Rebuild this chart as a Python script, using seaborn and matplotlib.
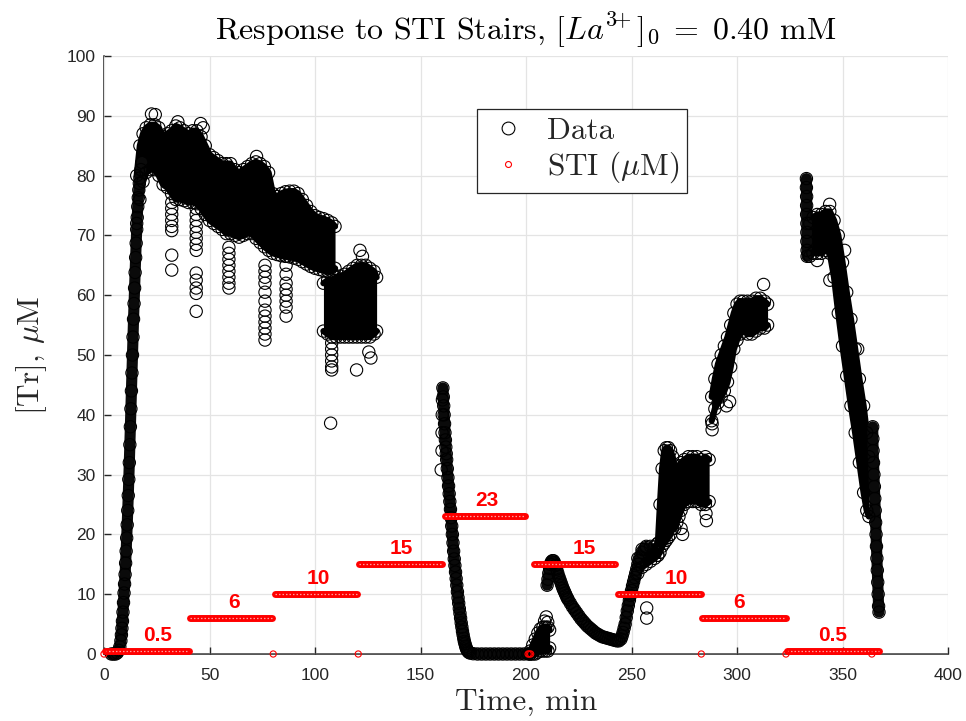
import numpy as np
import pandas as pd
import matplotlib
matplotlib.use("Agg")
import matplotlib.pyplot as plt
import seaborn as sns
from matplotlib.lines import Line2D
import warnings
warnings.filterwarnings("ignore")

# ---------------- data ----------------
# narrow "chains" of Data points (time in min, [Tr] in uM)
rise_t = [3.5, 4.5, 5.5, 6.3, 7.0, 7.5, 8.0, 8.25, 8.5, 8.75, 9.0, 9.25, 9.5, 9.75,
          10.0, 10.25, 10.5, 10.75, 11.0, 11.25, 11.5, 11.75, 12.0, 12.25, 12.5, 12.75,
          13.0, 13.25, 13.5, 13.75, 14.0, 14.25, 14.5, 14.75, 15.0, 15.25, 15.5, 15.75,
          16.0, 16.25, 16.5, 16.75, 17.0, 17.5, 18.0]
rise_y = [0, 0, 0, 0.2, 0.6, 1.2, 2.2, 3.2, 4.3, 5.5, 7, 8.6, 10.2, 11.7,
          13.3, 15.2, 17.2, 19.4, 21.6, 24.0, 26.5, 29.2, 32.0, 35, 38, 41,
          44, 47, 50, 53, 56, 58.6, 61.2, 63.8, 66.3, 68.7, 71, 73,
          74.8, 76.3, 77.6, 78.7, 79.6, 81, 82.2]

fall_t = [160.6, 160.8, 161.0, 161.2, 161.4, 161.6, 161.8, 162.0, 162.2, 162.4,
          162.7, 163.0, 163.3, 163.6, 163.9, 164.2, 164.5, 164.8, 165.1, 165.4,
          165.7, 166.0, 166.3, 166.6, 166.9, 167.2, 167.5, 167.8, 168.1, 168.4,
          168.7, 169.0, 169.3, 169.6, 169.9, 170.2, 170.5, 170.8, 171.1, 171.4,
          171.7, 172.0, 172.4, 172.8, 173.5, 175, 177, 179, 181, 183,
          185, 187, 189, 191, 193, 195, 197, 199, 201, 202]
fall_y = [44.5, 43, 41.5, 40, 38.5, 37, 35.8, 34.6, 33.5, 32.5,
          31, 29.5, 28.1, 26.8, 25.5, 24.2, 22.8, 21.4, 20, 18.6,
          17.2, 15.9, 14.8, 13.7, 12.6, 11.5, 10.4, 9.4, 8.5, 7.6,
          6.8, 6.0, 5.2, 4.5, 3.8, 3.2, 2.6, 2.1, 1.7, 1.3,
          1.0, 0.7, 0.5, 0.3, 0.15, 0.05, 0, 0, 0, 0,
          0, 0, 0, 0, 0, 0, 0, 0, 0, 0]

arc_t = [210.0, 210.4, 210.8, 211.2, 211.6, 212.0,
         212.5, 213.0, 213.5, 214.0, 214.5, 215.0, 215.5, 216.0, 216.5, 217.0,
         217.5, 218.0, 218.5, 219.0, 219.5, 220.0,
         221, 222, 223, 224, 225, 226, 227, 228, 229, 230, 231, 232, 233, 234,
         235, 236, 237, 238, 239, 240, 241, 242, 243, 244, 245,
         245.5, 246, 246.5, 247, 247.5, 248, 248.5, 249, 249.5, 250, 250.5, 251,
         251.5, 252, 252.5, 253, 253.5, 254, 255, 256, 257]
arc_y = [11.5, 12.5, 13.5, 14.3, 15.0, 15.4,
         15.6, 15.6, 15.3, 14.8, 14.2, 13.6, 13.0, 12.5, 12.0, 11.5,
         11.0, 10.6, 10.2, 9.8, 9.4, 9.1,
         8.5, 7.9, 7.4, 6.9, 6.4, 5.9, 5.5, 5.1, 4.7, 4.4, 4.1, 3.8, 3.5, 3.3,
         3.1, 2.9, 2.8, 2.7, 2.6, 2.5, 2.4, 2.3, 2.2, 2.2, 2.5,
         3.0, 3.6, 4.3, 5.0, 6.1, 7.2, 8.1, 9.0, 9.8, 10.6, 11.4, 12.1,
         12.8, 13.5, 14.2, 15.0, 15.6, 16.2, 17.0, 17.5, 17.8]

spike_t = [332.9, 332.9, 333.0, 333.0, 333.0, 333.1, 333.1, 333.1, 333.2, 333.2]
spike_y = [79.5, 78, 76.5, 75, 73.5, 72, 70.5, 69, 67.5, 66.5]

final_t = [364.3, 364.4, 364.5, 364.7, 364.9, 365.1, 365.3, 365.5, 365.7,
           365.9, 366.1, 366.3, 366.5, 366.7, 366.9, 367.1, 367.3]
final_y = [38, 36, 34, 32, 30, 28, 26, 24, 22, 20, 18, 16, 14, 12, 10, 8, 7]

# noisy "bands" of Data points: time, lower and upper edge
band1_t = [15.5, 17, 18.5, 20, 22, 24, 26, 28, 30, 32, 34, 36, 38, 40, 42, 44, 46, 48,
           50, 52, 54, 56, 58, 60, 62, 64, 66, 68, 70, 72, 74, 76, 78, 80, 82, 84, 86,
           88, 90, 92, 94, 96, 98, 100, 102, 104, 106, 108, 109.5]
band1_lo = [72, 76, 79, 80.5, 81, 81, 80, 78.5, 78, 77, 76, 76, 75.8, 75.5, 75.5, 75.3,
            74.5, 73.5, 72.5, 72, 71.5, 71, 70.3, 70.3, 70, 69.7, 70, 70.3, 70.3, 69.5,
            68.8, 68.1, 67.5, 67, 66.8, 66.6, 66.5, 66.4, 66.2, 66, 65.6, 65.2, 64.8,
            64.5, 64.3, 64.1, 64, 64, 64.5]
band1_hi = [80, 85, 87, 88, 88.5, 88.5, 88, 86.5, 87, 87.5, 88.3, 88, 87.5, 87, 87.5,
            87.5, 86.5, 85, 83.5, 83, 82.5, 82, 82, 82, 81, 80.5, 81, 81.5, 82, 82.3, 82,
            81.5, 80.5, 77, 76.5, 77, 77.3, 77.4, 77.4, 77, 76, 75, 74, 73.3, 73, 72.8,
            72.5, 72.1, 71.5]

band2_t = [104, 106, 108, 110, 112, 114, 116, 118, 120, 122, 124, 126, 128, 129.2]
band2_lo = [54, 53.5, 53, 53, 53, 53, 53, 53, 53, 53, 53, 53, 53.5, 54]
band2_hi = [62, 62.5, 62.5, 63, 63.2, 63.5, 64, 64.5, 65, 65, 65, 64.5, 64, 63]

bump_t = [202, 203.2, 204.4, 205.6, 206.8, 208, 209.2, 210.4, 211.2]
bump_lo = [0, 0, 0, 0.3, 0.5, 0.5, 0.5, 0.5, 1]
bump_hi = [0.5, 1.5, 2.5, 3.5, 4.2, 4.5, 4.5, 4.5, 4]

blob_t = [253, 255, 257, 259, 261, 262.5]
blob_lo = [13.5, 14.5, 15, 15.5, 16, 16.5]
blob_hi = [16, 17.5, 18, 18, 18, 18.5]

band3_t = [262.5, 263.5, 264.5, 265.5, 266.5, 267.5, 268.5, 269.5, 270.5, 271.5,
           272.5, 273.5, 275, 277, 279, 281, 283, 285, 286.8]
band3_lo = [16.5, 17, 18, 18.5, 19, 19.5, 20, 21, 21, 22, 23, 24, 25, 25.5, 25.5,
            25.5, 25, 25, 25.5]
band3_hi = [18.5, 25, 31, 34, 34.5, 34.5, 34, 33, 31, 30.5, 31.5, 32, 32.5, 33, 33,
            33, 32.5, 33, 32.5]

band4_t = [288, 289.5, 291, 292.5, 294, 295.5, 297, 298.5, 300, 301.5, 303, 305, 307,
           309, 311, 313, 314.5]
band4_lo = [39, 41, 42, 43, 44, 45.5, 48, 51, 52.5, 53.5, 54, 53.5, 53.5, 54, 54.5,
            54.5, 55]
band4_hi = [43, 46, 48.5, 50, 51.5, 53, 55, 57, 58.5, 59, 59, 59, 59, 59.5, 59.5,
            59, 58.5]

band5_t = [334.5, 336, 338, 340, 342, 344, 346, 348, 350, 352, 354, 356, 358, 360,
           361.5, 362.5]
band5_lo = [66.5, 67, 67, 67, 67.5, 67, 63, 57, 51.5, 46.5, 41.5, 37, 32, 27,
            24, 23]
band5_hi = [72, 73, 73.5, 73.5, 74, 74, 72.5, 70, 65.5, 60.5, 56, 51, 46, 41.5,
            37, 33]

# isolated Data points
out_t = [32.1, 32.1, 32.1, 32.1, 32.1, 32.1, 32.1, 32.1,
         43.7, 43.7, 43.7, 43.7, 43.7, 43.7, 43.7, 43.7, 43.7, 43.7, 43.7, 43.7, 43.7,
         59.2, 59.2, 59.2, 59.2, 59.2, 59.2, 59.2, 59.2,
         76.3, 76.3, 76.3, 76.3, 76.3, 76.3, 76.3, 76.3, 76.3, 76.3, 76.3, 76.3,
         86.3, 86.3, 86.3, 86.3, 86.3, 86.3, 86.3, 86.3, 86.3,
         22.5, 24.3, 35.0, 45.8, 47.0, 72.3,
         107.4, 107.9, 107.9, 107.9, 107.9, 107.9, 107.9, 119.7, 125.5, 126.5, 121.3, 122.5,
         159.8, 160.2, 160.2, 160.3, 160.4,
         208.8, 209.6, 210.3, 257.2, 257.2,
         285.5, 285.3, 273.5, 274.2,
         288.2, 288.2, 295.0, 296.5, 312.6,
         343.9, 344.0, 351.0, 357.2, 338.0]
out_y = [75.5, 74.5, 73.5, 72.5, 71.5, 70.8, 66.7, 64.2,
         74.5, 73.5, 72.5, 71.5, 70.5, 69.5, 68.5, 67.5, 63.7, 62.5, 61.2, 60.3, 57.3,
         68, 67, 66, 65, 64, 63, 62, 61.2,
         65, 64, 63, 62, 60.5, 59, 57.5, 56.5, 55.5, 54.5, 53.5, 52.5,
         66.5, 65, 63.5, 62, 61, 60, 59, 58, 56.5,
         90.3, 90.2, 89.0, 88.7, 88.0, 83.2,
         38.6, 52, 51, 50, 49, 48, 47.5, 47.5, 50.5, 49.5, 67.5, 66.5,
         30.8, 34, 37, 40, 42.5,
         5.5, 6.2, 5.3, 7.7, 6.0,
         22.3, 23.5, 21, 20,
         37.5, 38.5, 41.5, 42.2, 61.8,
         75.2, 62.5, 67.5, 51, 65.8]

# STI staircase (uM)
sti_start = [0.3, 40.6, 80.9, 120.8, 161.4, 203.8, 243.6, 283.3, 323.5]
sti_end = [40.2, 79.6, 119.9, 160.2, 199.7, 242.4, 282.8, 323.0, 367.2]
sti_level = [0.5, 6, 10, 15, 23, 15, 10, 6, 0.5]
sti_text = ["0.5", "6", "10", "15", "23", "15", "10", "6", "0.5"]
sti_text_t = [25.3, 61.8, 101.6, 141.1, 181.4, 227.6, 271.4, 300.8, 345.3]
sti_zero_t = [0.0, 80.2, 120.5, 201.0, 201.6, 202.2, 283.1, 323.2, 363.9]
sti_zero_y = [0, 0, 0, 0, 0, 0, 0, 0, 0]

# ---------------- drawing ----------------
sns.set_theme(style="white")
plt.rcParams["font.family"] = ["Liberation Sans", "DejaVu Sans"]
plt.rcParams["mathtext.fontset"] = "cm"
SERIF = ["cmr10", "DejaVu Serif"]

fig = plt.figure(figsize=(9.66, 7.21), dpi=100)
ax = fig.add_axes([104 / 966, 67 / 721, 844 / 966, 598 / 721])

axis_col = "#262626"
ax.set_xlim(0, 400)
ax.set_ylim(0, 100)
ax.set_xticks(np.arange(0, 401, 50))
ax.set_yticks(np.arange(0, 101, 10))
ax.set_axisbelow(True)
ax.grid(True, color="#e4e4e4", linewidth=0.9)
for side in ["top", "right"]:
    ax.spines[side].set_visible(False)
for side in ["left", "bottom"]:
    ax.spines[side].set_color(axis_col)
    ax.spines[side].set_linewidth(1.1)
    ax.spines[side].set_zorder(0.5)
ax.tick_params(direction="in", length=5, width=1.0, color=axis_col,
               labelcolor=axis_col, labelsize=12.5, left=True, bottom=True)
ax.tick_params(axis="x", pad=10)
ax.tick_params(axis="y", pad=6)

CIRC = dict(marker="o", s=78, facecolor="none", edgecolor="black",
            linewidth=0.8, clip_on=False, zorder=3, legend=False)

bands = [(band1_t, band1_lo, band1_hi), (band2_t, band2_lo, band2_hi),
         (bump_t, bump_lo, bump_hi), (blob_t, blob_lo, blob_hi),
         (band3_t, band3_lo, band3_hi), (band4_t, band4_lo, band4_hi),
         (band5_t, band5_lo, band5_hi)]
chains = [(rise_t, rise_y), (fall_t, fall_y), (arc_t, arc_y),
          (spike_t, spike_y), (final_t, final_y)]

for t, lo, hi in bands:
    ax.fill_between(t, lo, hi, color="black", linewidth=0, zorder=2)
    ax.plot(t, lo, color="black", lw=4.5, solid_capstyle="round", zorder=2, clip_on=False)
    ax.plot(t, hi, color="black", lw=4.5, solid_capstyle="round", zorder=2, clip_on=False)
    sns.scatterplot(x=t, y=lo, ax=ax, **CIRC)
    sns.scatterplot(x=t, y=hi, ax=ax, **CIRC)

for t, y in chains:
    ax.plot(t, y, color="#0a0a0a", lw=8.0, solid_capstyle="round",
            solid_joinstyle="round", zorder=2, clip_on=False)
    sns.scatterplot(x=t, y=y, ax=ax, **CIRC)

sns.scatterplot(x=out_t, y=out_y, ax=ax, **CIRC)

# STI staircase
for s, e, lv in zip(sti_start, sti_end, sti_level):
    ax.plot([s, e], [lv, lv], color="#ff0000", lw=5.0, solid_capstyle="round",
            zorder=5, clip_on=False)
    ax.plot([s, e], [lv, lv], color="#ff9c9c", lw=0.9, ls=(0, (1.2, 1.6)),
            zorder=6, clip_on=False)
sns.scatterplot(x=sti_zero_t, y=sti_zero_y, ax=ax, marker="o", s=20,
                facecolor="none", edgecolor="red", linewidth=0.8,
                clip_on=False, zorder=6, legend=False)
for tx, lv, txt in zip(sti_text_t, sti_level, sti_text):
    ax.text(tx, lv + 2.6, txt, color="#ff0000", fontsize=15, fontweight="bold",
            ha="center", va="center", zorder=7,
            family=["Liberation Sans", "DejaVu Sans"])

ax.set_title(r"Response to STI Stairs, $[La^{3\!\!+}]_0\;=\;0.40$ mM",
             fontsize=23, pad=12, color="black", family=SERIF)
ax.set_xlabel("Time, min", fontsize=22.5, labelpad=4, color=axis_col, family=SERIF)
ax.set_ylabel(r"[Tr], $\mu$M", fontsize=22.5, labelpad=13, color=axis_col, family=SERIF)

handles = [Line2D([], [], ls="none", marker="o", markersize=9.2, mfc="none",
                  mec="black", mew=0.8),
           Line2D([], [], ls="none", marker="o", markersize=4.3, mfc="none",
                  mec="red", mew=0.8)]
leg = ax.legend(handles, ["Data", r"STI ($\mu$M)"],
                loc="upper left", bbox_to_anchor=((477 - 104) / 844, (654 - 109) / 598),
                borderaxespad=0, prop={"family": SERIF, "size": 22.5},
                frameon=True, fancybox=False,
                framealpha=1, edgecolor="#262626", handlelength=1.5,
                handletextpad=0.5, borderpad=0.25, labelspacing=0.15)
leg.get_frame().set_linewidth(0.9)
leg.set_zorder(10)

fig.savefig("out.png", dpi=100)
